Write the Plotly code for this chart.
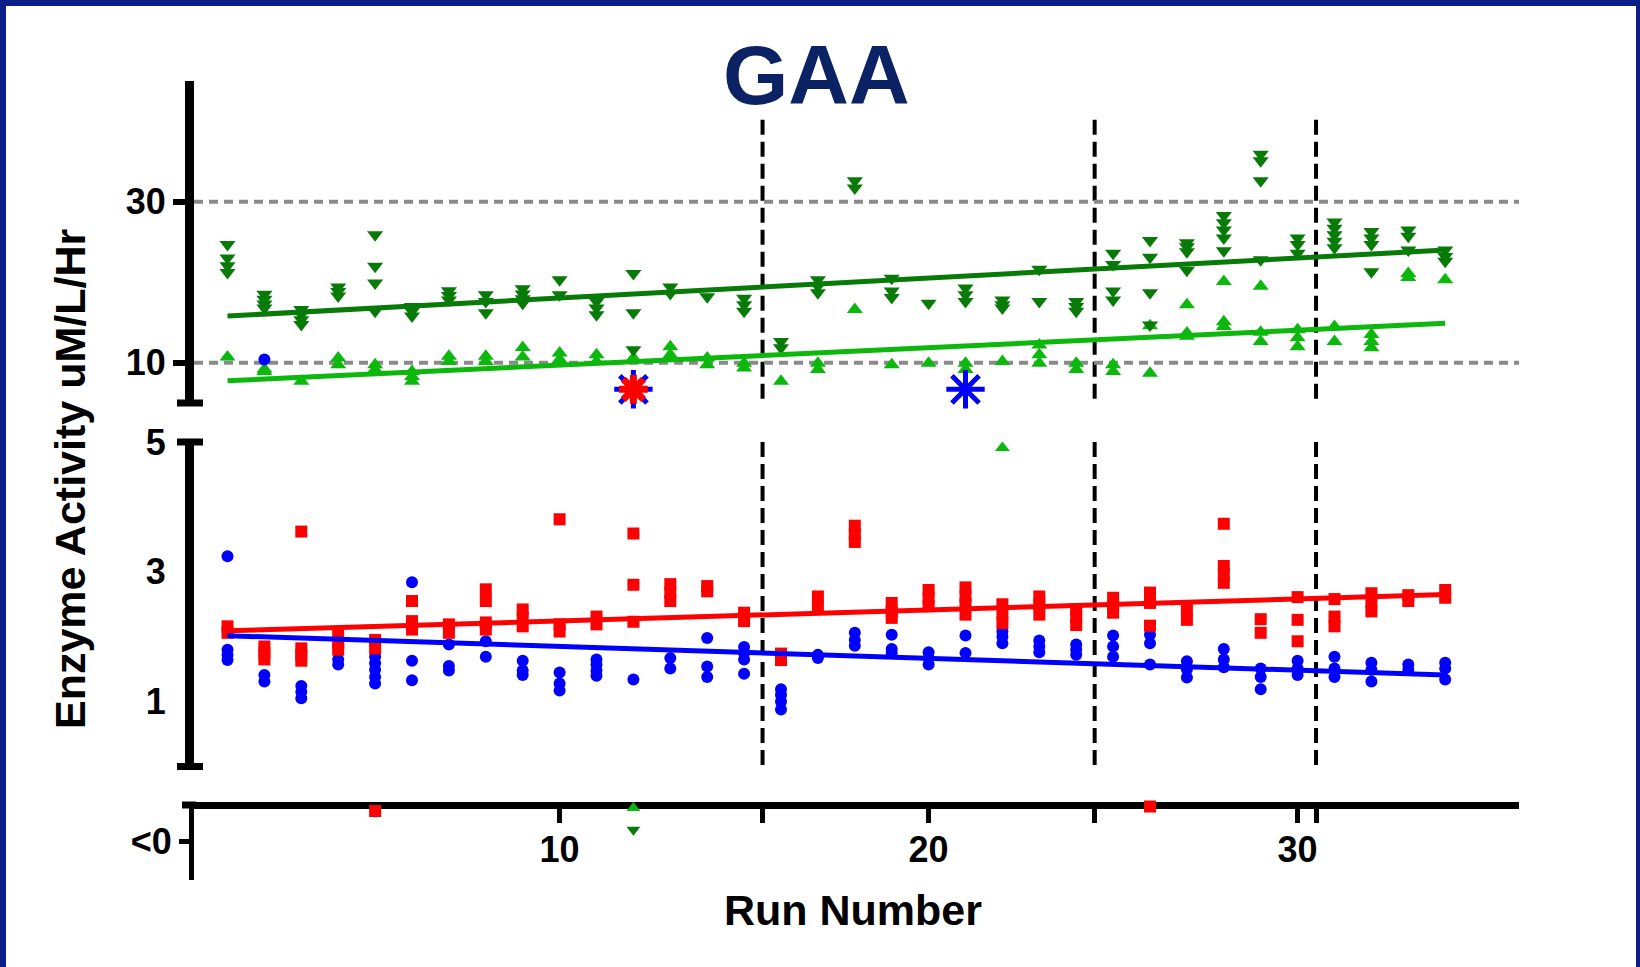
import plotly.graph_objects as go

W, H = 1640, 967

# ---------------- data ----------------
runs = list(range(1, 35))

# upper panel (uM/L/Hr): high control (dark green, down triangles)
dg_values = [
    [24.7, 23.0, 22.05, 21.2], [18.5, 17.9, 17.3, 16.8], [16.6, 16.0, 15.35, 14.75],
    [19.4, 18.85, 18.3], [25.9, 22.0, 19.9, 16.4], [17.0, 16.4, 15.8],
    [18.95, 18.35, 17.8], [18.45, 17.6, 16.2], [19.2, 18.55, 17.95, 17.4],
    [20.3, 18.45], [17.6, 16.8, 15.95], [21.1, 16.2, 11.6],
    [19.4, 18.6], [18.2], [18.0, 17.2, 16.4],
    [12.65, 11.85], [20.3, 19.5, 18.7], [32.6, 31.7],
    [20.5, 18.9, 18.1], [17.4], [19.3, 18.45, 17.6],
    [17.8, 17.2, 16.8], [21.6, 17.6], [17.6, 17.0, 16.4],
    [23.6, 22.2, 18.9, 17.8], [25.2, 23.1, 18.7, 14.7], [24.9, 24.4, 23.8, 21.5],
    [28.3, 27.4, 26.5, 25.5, 23.9], [35.9, 35.1, 32.6, 22.8], [25.5, 24.7, 23.6],
    [27.5, 26.7, 25.9, 25.1, 24.3], [26.3, 25.5, 24.7, 21.3], [26.5, 25.7, 24.0],
    [24.0, 23.2, 22.6],
]
# upper panel: mid control (light green, up triangles)
lg_values = [
    [10.7], [9.2, 8.9], [7.7], [10.6, 9.75], [9.75, 9.15], [8.9, 8.3, 7.7],
    [10.8, 10.15], [10.8, 10.15], [11.9, 10.7], [11.2, 10.4], [11.0, 10.15], [10.6],
    [12.0, 11.0], [10.6, 9.75], [9.95, 9.35], [7.7], [9.95, 9.15], [16.6],
    [9.75], [9.95], [9.95, 9.15], [10.15], [12.2, 11.0, 9.95], [9.95, 9.15],
    [9.75, 8.9], [14.6, 8.7], [17.2, 13.7, 13.3], [20.1, 15.1, 14.5],
    [19.5, 13.8, 12.65], [14.1, 13.1, 12.0], [14.5, 12.65], [13.5, 12.65, 11.85],
    [21.1, 20.6], [20.3],
]
# lower panel: low control (red squares)
red_values = [
    [2.16, 2.06], [1.85, 1.75, 1.65], [3.62, 1.82, 1.72, 1.63], [2.03, 1.91, 1.8],
    [1.95, 1.82], [2.55, 2.24, 2.11], [2.19, 2.06], [2.73, 2.55, 2.22, 2.11],
    [2.42, 2.29, 2.16], [3.81, 2.19, 2.08], [2.31, 2.19], [3.59, 2.8, 2.23],
    [2.81, 2.68, 2.55], [2.78, 2.7], [2.37, 2.24], [1.74, 1.64],
    [2.62, 2.47], [3.71, 3.58, 3.46], [2.52, 2.39, 2.29], [2.72, 2.6, 2.47],
    [2.76, 2.62, 2.5, 2.34], [2.5, 2.37, 2.21], [2.62, 2.5, 2.34], [2.42, 2.3, 2.18],
    [2.6, 2.47, 2.37], [2.68, 2.52, 2.17], [2.41, 2.26], [3.74, 3.09, 2.96, 2.83],
    [2.27, 2.06], [2.61, 2.26, 1.93], [2.58, 2.31, 2.16], [2.67, 2.53, 2.39],
    [2.64, 2.55], [2.72, 2.6],
]
# lower panel: blank / base (blue circles)
blue_values = [
    [3.24, 1.8, 1.72, 1.64], [1.41, 1.31], [1.24, 1.15, 1.05], [1.65, 1.57],
    [1.69, 1.59, 1.49, 1.38, 1.28], [2.84, 1.63, 1.33], [1.88, 1.55, 1.48],
    [2.15, 1.93, 1.69], [1.63, 1.48, 1.41], [1.45, 1.28, 1.17], [1.65, 1.57, 1.48, 1.4],
    [1.34], [1.67, 1.51], [1.98, 1.54, 1.38], [1.84, 1.75, 1.65, 1.43],
    [1.19, 1.1, 1.0, 0.88], [1.72, 1.67], [2.06, 1.95, 1.86], [2.03, 1.81, 1.75],
    [1.76, 1.67, 1.57], [2.02, 1.75], [2.08, 2.0, 1.9], [1.94, 1.85, 1.76],
    [1.88, 1.8, 1.72], [2.02, 1.85, 1.69], [2.03, 1.9, 1.57], [1.62, 1.5, 1.37],
    [1.81, 1.65, 1.53], [1.51, 1.38, 1.19], [1.63, 1.51, 1.41], [1.69, 1.51, 1.38],
    [1.6, 1.49, 1.31], [1.57, 1.49], [1.6, 1.51, 1.34],
]

# isolated points
blue_upper_runs, blue_upper_vals = [2], [10.4]
lg_lower_runs, lg_lower_vals = [22], [4.91]
star_runs, star_vals = [12, 21], [6.7, 6.7]
# points plotted in the "<0" band (band coordinate: 0 = axis line, -1 = bottom)
red_below_runs, red_below_vals = [5, 26], [-0.08, -0.02]
lg_below_runs, lg_below_vals = [12], [-0.04]
dg_below_runs, dg_below_vals = [12], [-0.33]

# linear regression lines (value at first and last run)
fit_runs = [1, 34]
dg_fit = [15.8, 24.0]
lg_fit = [7.75, 14.9]
red_fit = [2.09, 2.65]
blue_fit = [2.015, 1.41]

# reference lines
ref_levels = [10, 30]
lot_change_runs = [15.5, 24.5, 30.5]
x_ticks = [10, 20, 30]

# ---------------- styling ----------------
DG = "#087a08"
LG = "#0cb80c"
RED = "#ff0000"
BLUE = "#0000ff"
FONT = "Liberation Sans"

X_RANGE = [0.092, 36.0]
UP_RANGE = [5, 45]
LOW_RANGE = [0, 5]
NEG_RANGE = [-1, 0]


def flat(vals):
    xs, ys = [], []
    for r, vs in zip(runs, vals):
        for v in vs:
            xs.append(r)
            ys.append(v)
    return xs, ys


def py(px):  # paper y from pixel
    return 1 - px / H


def pxx(px):
    return px / W


fig = go.Figure()

# dashed vertical lot-change lines
vx, vy_up, vy_low = [], [], []
for r in lot_change_runs:
    vx += [r, r, None]
    vy_up += [40.2, UP_RANGE[0], None]
    vy_low += [LOW_RANGE[1], LOW_RANGE[0], None]
dash_line = dict(color="black", width=4, dash="15px,7px")
fig.add_trace(go.Scatter(x=vx, y=vy_up, mode="lines", line=dash_line, yaxis="y", hoverinfo="skip"))
fig.add_trace(go.Scatter(x=vx, y=vy_low, mode="lines", line=dash_line, yaxis="y2", hoverinfo="skip"))

# grey dotted reference lines
gx, gy = [], []
for lv in ref_levels:
    gx += [X_RANGE[0], X_RANGE[1], None]
    gy += [lv, lv, None]
fig.add_trace(go.Scatter(x=gx, y=gy, mode="lines", yaxis="y",
                         line=dict(color="#8a8a8a", width=4, dash="9px,6px"), hoverinfo="skip"))

# upper panel markers
x, y = flat(lg_values)
fig.add_trace(go.Scatter(x=x, y=y, mode="markers", yaxis="y",
                         marker=dict(symbol="triangle-up", size=14, color=LG, line=dict(width=0))))
fig.add_trace(go.Scatter(x=blue_upper_runs, y=blue_upper_vals, mode="markers", yaxis="y",
                         marker=dict(symbol="circle", size=12, color=BLUE, line=dict(width=0))))
x, y = flat(dg_values)
fig.add_trace(go.Scatter(x=x, y=y, mode="markers", yaxis="y",
                         marker=dict(symbol="triangle-down", size=14, color=DG, line=dict(width=0))))
fig.add_trace(go.Scatter(x=fit_runs, y=dg_fit, mode="lines", yaxis="y", line=dict(color=DG, width=5)))
fig.add_trace(go.Scatter(x=fit_runs, y=lg_fit, mode="lines", yaxis="y", line=dict(color=LG, width=5)))

# asterisks
fig.add_trace(go.Scatter(x=star_runs, y=star_vals, mode="markers", yaxis="y", cliponaxis=False,
                         marker=dict(symbol="asterisk-open", size=32, color=BLUE,
                                     line=dict(color=BLUE, width=5))))
fig.add_trace(go.Scatter(x=star_runs[:1], y=star_vals[:1], mode="markers", yaxis="y", cliponaxis=False,
                         marker=dict(symbol="asterisk-open", size=24, color=RED,
                                     line=dict(color=RED, width=7))))
fig.add_trace(go.Scatter(x=star_runs[:1], y=star_vals[:1], mode="markers", yaxis="y", cliponaxis=False,
                         marker=dict(symbol="circle", size=14, color=RED, line=dict(width=0))))

# lower panel markers
x, y = flat(blue_values)
fig.add_trace(go.Scatter(x=x, y=y, mode="markers", yaxis="y2",
                         marker=dict(symbol="circle", size=12, color=BLUE, line=dict(width=0))))
x, y = flat(red_values)
fig.add_trace(go.Scatter(x=x, y=y, mode="markers", yaxis="y2",
                         marker=dict(symbol="square", size=12, color=RED, line=dict(width=0))))
fig.add_trace(go.Scatter(x=lg_lower_runs, y=lg_lower_vals, mode="markers", yaxis="y2",
                         marker=dict(symbol="triangle-up", size=13, color=LG, line=dict(width=0))))
fig.add_trace(go.Scatter(x=fit_runs, y=red_fit, mode="lines", yaxis="y2", line=dict(color=RED, width=5)))
fig.add_trace(go.Scatter(x=fit_runs, y=blue_fit, mode="lines", yaxis="y2", line=dict(color=BLUE, width=5)))

# "<0" band markers
fig.add_trace(go.Scatter(x=red_below_runs, y=red_below_vals, mode="markers", yaxis="y3", cliponaxis=False,
                         marker=dict(symbol="square", size=12, color=RED, line=dict(width=0))))
fig.add_trace(go.Scatter(x=lg_below_runs, y=lg_below_vals, mode="markers", yaxis="y3", cliponaxis=False,
                         marker=dict(symbol="triangle-up", size=12, color=LG, line=dict(width=0))))
fig.add_trace(go.Scatter(x=dg_below_runs, y=dg_below_vals, mode="markers", yaxis="y3", cliponaxis=False,
                         marker=dict(symbol="triangle-down", size=12, color=DG, line=dict(width=0))))

tickfont = dict(family=FONT, size=36, color="black", weight="bold")

fig.update_layout(
    width=W, height=H, autosize=False,
    margin=dict(l=0, r=0, t=0, b=0, pad=0, autoexpand=False),
    paper_bgcolor="white", plot_bgcolor="white",
    showlegend=False,
    xaxis=dict(domain=[pxx(194), pxx(1519)], range=X_RANGE, anchor="free", position=py(805),
               automargin=False,
               showline=True, linewidth=7, linecolor="black", showgrid=False, zeroline=False,
               ticks="outside", ticklen=14, tickwidth=5, tickcolor="black",
               tickvals=x_ticks + lot_change_runs,
               ticktext=[str(t) for t in x_ticks] + ["" for _ in lot_change_runs],
               tickfont=tickfont, ticklabelstandoff=-4),
    yaxis=dict(domain=[py(403), py(81)], range=UP_RANGE, anchor="x", automargin=False,
               showline=True, linewidth=9, linecolor="black", showgrid=False, zeroline=False,
               ticks="outside", ticklen=12, tickwidth=6, tickcolor="black",
               tickvals=ref_levels, tickfont=tickfont),
    yaxis2=dict(domain=[py(766.5), py(442)], range=LOW_RANGE, anchor="x", automargin=False,
                showline=True, linewidth=9, linecolor="black", showgrid=False, zeroline=False,
                ticks="", tickvals=[1, 3, 5], tickfont=tickfont, ticklabelstandoff=12),
    yaxis3=dict(domain=[py(880), py(805)], range=NEG_RANGE, anchor="x", automargin=False,
                showline=True, linewidth=5, linecolor="black", showgrid=False, zeroline=False,
                ticks="outside", ticklen=10, tickwidth=5, tickcolor="black",
                tickvals=[-0.48], ticktext=["<0"], tickfont=tickfont),
)

# axis end caps and border
cap = dict(type="line", xref="paper", line=dict(color="black", width=7))
shapes = [
    dict(cap, x0=pxx(177), x1=pxx(203), yref="y domain", y0=0, y1=0),
    dict(cap, x0=pxx(177), x1=pxx(203), yref="y2 domain", y0=1, y1=1),
    dict(cap, x0=pxx(177), x1=pxx(203), yref="y2 domain", y0=0, y1=0),
    dict(type="line", xref="paper", yref="paper", x0=pxx(182), x1=pxx(196), y0=py(805), y1=py(805),
         line=dict(color="black", width=7)),
    dict(type="rect", xref="paper", yref="paper", x0=0, x1=1, y0=py(6), y1=1,
         fillcolor="#0c1f86", line=dict(width=0)),
    dict(type="rect", xref="paper", yref="paper", x0=0, x1=pxx(6), y0=0, y1=1,
         fillcolor="#0c1f86", line=dict(width=0)),
    dict(type="rect", xref="paper", yref="paper", x0=pxx(1636), x1=1, y0=0, y1=1,
         fillcolor="#0c1f86", line=dict(width=0)),
]
fig.update_layout(shapes=shapes)

fig.add_annotation(text="GAA", xref="paper", yref="paper", x=pxx(816), y=py(75),
                   showarrow=False, xanchor="center", yanchor="middle",
                   font=dict(family=FONT, size=84, color="#0b2265", weight="bold"))
fig.add_annotation(text="Enzyme Activity uM/L/Hr", xref="paper", yref="paper", x=pxx(70), y=py(479),
                   showarrow=False, xanchor="center", yanchor="middle", textangle=-90,
                   font=dict(family=FONT, size=43, color="black", weight="bold"))
fig.add_annotation(text="Run Number", xref="paper", yref="paper", x=pxx(853), y=py(910),
                   showarrow=False, xanchor="center", yanchor="middle",
                   font=dict(family=FONT, size=43, color="black", weight="bold"))

fig.write_html("out.html", config={"displayModeBar": False},
               post_script="document.body.style.margin='0';")
